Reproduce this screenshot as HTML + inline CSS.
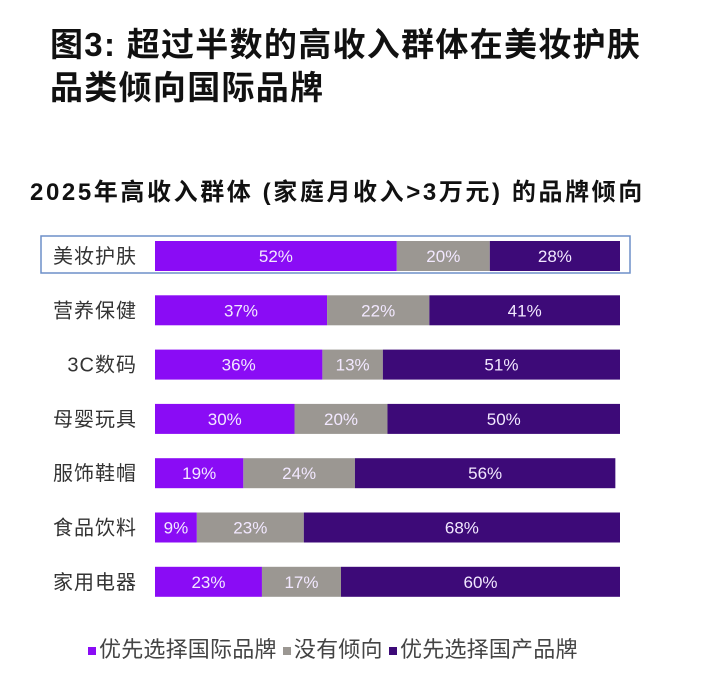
<!DOCTYPE html>
<html><head><meta charset="utf-8">
<style>
body{margin:0;width:706px;height:682px;background:#fff;font-family:"Liberation Sans","Noto Sans CJK SC",sans-serif;overflow:hidden;position:relative}
.t{position:absolute;left:50px;font-size:33px;font-weight:bold;color:#111;letter-spacing:1.3px}
.st{position:absolute;left:30px;top:172px;font-size:24px;font-weight:bold;color:#111;letter-spacing:2.6px;white-space:nowrap}
.lg{position:absolute;left:88px;top:632px;font-size:22px;color:#444;white-space:nowrap;letter-spacing:0.2px}
.sq{display:inline-block;width:8px;height:8px;margin-right:3px;vertical-align:middle}
</style></head><body>
<div class="t" style="top:18px">图3: 超过半数的高收入群体在美妆护肤</div>
<div class="t" style="top:61px">品类倾向国际品牌</div>
<div class="st">2025年高收入群体 (家庭月收入&gt;3万元) 的品牌倾向</div>
<svg id="c" width="706" height="682" style="position:absolute;left:0;top:0"></svg>
<div class="lg">
<span><span class="sq" style="background:#8a0cf5"></span>优先选择国际品牌</span>
<span><span class="sq" style="background:#9b9792"></span>没有倾向</span>
<span><span class="sq" style="background:#3d0a78"></span>优先选择国产品牌</span>
</div>
<script>
const categories=["美妆护肤","营养保健","3C数码","母婴玩具","服饰鞋帽","食品饮料","家用电器"];
const intl=[52,37,36,30,19,9,23];
const neutral=[20,22,13,20,24,23,17];
const domestic=[28,41,51,50,56,68,60];
const svg=document.getElementById('c');
const NS='http://www.w3.org/2000/svg';
const x0=155,W=465,y0=241,step=54.3,bh=30;
const xs=v=>v*W/100;
const colors=["#8a0cf5","#9b9792","#3d0a78"];
const names=["international","neutral","domestic"];
const series=[intl,neutral,domestic];
const box=document.createElementNS(NS,'rect');
box.setAttribute('x',41);box.setAttribute('y',236);box.setAttribute('width',589);box.setAttribute('height',37);
box.setAttribute('fill','none');box.setAttribute('stroke','#6d8fc9');box.setAttribute('stroke-width','1.5');


svg.appendChild(box);
categories.forEach((cat,i)=>{
  const y=y0+i*step;
  const lab=document.createElementNS(NS,'text');
  lab.setAttribute('x',137);lab.setAttribute('y',y+bh/2+7);lab.setAttribute('text-anchor','end');
  lab.setAttribute('font-size','20');lab.setAttribute('fill','#333');lab.setAttribute('letter-spacing','1');
  lab.textContent=cat;
  
  
  svg.appendChild(lab);
  let acc=0;
  series.forEach((s,k)=>{
    const v=s[i];
    const r=document.createElementNS(NS,'rect');
    r.setAttribute('x',x0+xs(acc));r.setAttribute('y',y);r.setAttribute('width',xs(v));r.setAttribute('height',bh);
    r.setAttribute('fill',colors[k]);
    
    
    svg.appendChild(r);
    const t=document.createElementNS(NS,'text');
    t.setAttribute('x',x0+xs(acc+v/2));t.setAttribute('y',y+bh/2+6);t.setAttribute('text-anchor','middle');
    t.setAttribute('font-size','17');t.setAttribute('fill','#f2e8ff');
    t.textContent=v+'%';
    
    
    svg.appendChild(t);
    acc+=v;
  });
});
</script>
</body></html>
